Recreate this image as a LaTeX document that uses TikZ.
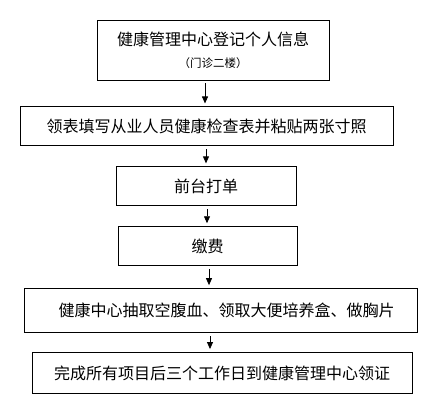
\documentclass[tikz,border=0pt]{standalone}
\usepackage{fontspec}
\setmainfont{Noto Sans CJK SC}
\usetikzlibrary{arrows.meta, positioning}

\begin{document}
\begin{tikzpicture}[
    x=1pt, y=-1pt,
    stepbox/.style={rectangle, draw=black, line width=0.9pt, fill=white, inner sep=0pt, align=center, font=\fontsize{16}{19}\selectfont},
    line/.style={draw=black, line width=0.8pt, -{Triangle[length=7pt, width=6pt]}, shorten <=3pt, shorten >=3pt}
]
    \useasboundingbox (0,0) rectangle (436,408);

    % --- boxes, top to bottom ---
    \node [stepbox, minimum width=232pt, minimum height=60pt] (reg) at (213,50)
        {健康管理中心登记个人信息\\[3pt]{\fontsize{11.5}{13}\selectfont （门诊二楼）}};
    \node [stepbox, minimum width=373pt, minimum height=39pt, below=26pt of reg, xshift=-6.5pt] (form)
        {领表填写从业人员健康检查表并粘贴两张寸照};
    \node [stepbox, minimum width=180pt, minimum height=39pt, below=20pt of form, xshift=-0.5pt] (desk)
        {前台打单};
    \node [stepbox, minimum width=179pt, minimum height=39pt, below=20pt of desk, xshift=1.5pt] (pay)
        {缴费};
    \node [stepbox, minimum width=393pt, minimum height=44pt, below=22pt of pay, xshift=13pt] (exam)
        {\hspace{12pt}健康中心抽取空腹血、领取大便培养盒、做胸片};
    \node [stepbox, minimum width=380pt, minimum height=41pt, below=19pt of exam, xshift=1.5pt] (cert)
        {完成所有项目后三个工作日到健康管理中心领证};

    % --- arrows ---
    \path [line] ([xshift=-8pt]reg.south) -- ([xshift=-8pt]reg.south |- form.north);
    \path [line] ([xshift=-0.5pt]form.south) -- ([xshift=-0.5pt]form.south |- desk.north);
    \path [line] ([xshift=1pt]desk.south) -- ([xshift=1pt]desk.south |- pay.north);
    \path [line] ([xshift=1.5pt]pay.south) -- ([xshift=1.5pt]pay.south |- exam.north);
    \path [line] ([xshift=-10.5pt]exam.south) -- ([xshift=-10.5pt]exam.south |- cert.north);

\end{tikzpicture}
\end{document}
